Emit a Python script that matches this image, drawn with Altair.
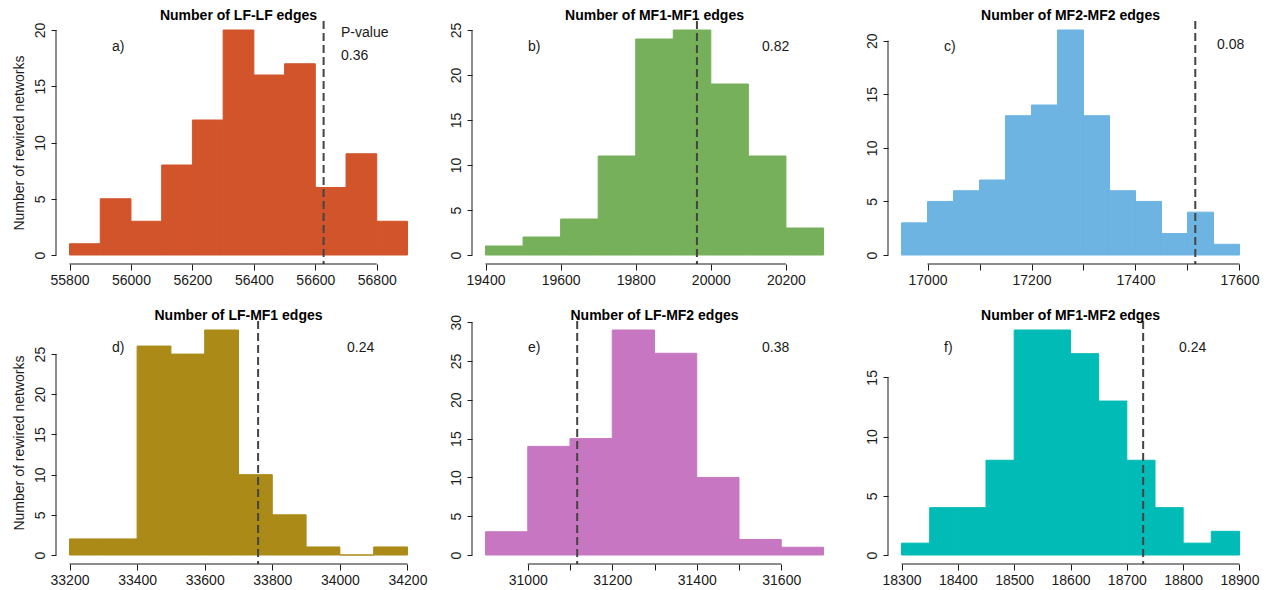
import altair as alt
import pandas as pd

FONT = "Liberation Sans"

# ---- data ----
titles = ["Number of LF-LF edges", "Number of MF1-MF1 edges", "Number of MF2-MF2 edges",
          "Number of LF-MF1 edges", "Number of LF-MF2 edges", "Number of MF1-MF2 edges"]
letters = ["a)", "b)", "c)", "d)", "e)", "f)"]
pvalues = ["0.36", "0.82", "0.08", "0.24", "0.38", "0.24"]
colors = ["#d1542b", "#77b05a", "#6db4e2", "#ab8a17", "#c777c1", "#00bbb6"]

bin_starts = [55800, 19400, 16950, 33200, 30900, 18300]
bin_widths = [100, 100, 50, 100, 100, 50]
counts_a = [1, 5, 3, 8, 12, 20, 16, 17, 6, 9, 3]
counts_b = [1, 2, 4, 11, 24, 25, 19, 11, 3]
counts_c = [3, 5, 6, 7, 13, 14, 21, 13, 6, 5, 2, 4, 1]
counts_d = [2, 2, 26, 25, 28, 10, 5, 1, 0, 1]
counts_e = [3, 14, 15, 29, 26, 10, 2, 1]
counts_f = [1, 4, 4, 8, 19, 19, 17, 13, 8, 4, 1, 2]
counts = [counts_a, counts_b, counts_c, counts_d, counts_e, counts_f]

observed = [56627, 19963, 17515, 33758, 31117, 18729]

x_ticks = [
    [55800, 56000, 56200, 56400, 56600, 56800],
    [19400, 19600, 19800, 20000, 20200],
    [17000, 17100, 17200, 17300, 17400, 17500, 17600],
    [33200, 33400, 33600, 33800, 34000, 34200],
    [31000, 31100, 31200, 31300, 31400, 31500, 31600],
    [18300, 18400, 18500, 18600, 18700, 18800, 18900],
]
x_label_step = [200, 200, 200, 200, 200, 100]
y_ticks = [
    [0, 5, 10, 15, 20],
    [0, 5, 10, 15, 20, 25],
    [0, 5, 10, 15, 20],
    [0, 5, 10, 15, 20, 25],
    [0, 5, 10, 15, 20, 25, 30],
    [0, 5, 10, 15],
]
y_title = "Number of rewired networks"

# ---- style ----
W, H = 365, 243
pval_x = [285, 290, 329, 291, 290, 291]
pval_y = [35, 26, 24, 27, 27, 27]
TXT = "#1a1a1a"


def panel(i):
    edges = [bin_starts[i] + k * bin_widths[i] for k in range(len(counts[i]) + 1)]
    df = pd.DataFrame({"x0": edges[:-1], "x1": edges[1:], "count": counts[i]})
    xmin, xmax = edges[0], edges[-1]
    xpad = 0.04 * (xmax - xmin)
    ymax = max(counts[i])
    ypad = 0.04 * ymax
    xs = alt.Scale(domain=[xmin - xpad, xmax + xpad], nice=False, zero=False)
    ys = alt.Scale(domain=[-ypad, ymax + ypad], nice=False, zero=False)

    step = x_label_step[i]
    xaxis = alt.Axis(values=x_ticks[i], domain=False, grid=False, title=None,
                     tickSize=6, tickColor=TXT, labelFlush=False, labelOverlap=False,
                     labelExpr=f"datum.value % {step} == 0 ? format(datum.value, 'd') : ''",
                     labelFontSize=14, labelFont=FONT, labelColor=TXT, labelPadding=3)
    yargs = dict(values=y_ticks[i], domain=False, grid=False,
                 tickSize=5, tickColor=TXT, labelAngle=270, labelAlign="center",
                 labelBaseline="bottom", labelPadding=4, labelFlush=False,
                 labelOverlap=False, format="d",
                 labelFontSize=14, labelFont=FONT, labelColor=TXT)
    if i % 3 == 0:
        yargs.update(title=y_title, titleFontSize=14, titleFont=FONT,
                     titleFontWeight="normal", titleColor=TXT, titlePadding=7)
    else:
        yargs.update(title=None)
    yaxis = alt.Axis(**yargs)

    bars = alt.Chart(df).mark_rect(
        color=colors[i], stroke=colors[i], strokeWidth=1
    ).encode(
        x=alt.X("x0:Q", scale=xs, axis=xaxis),
        x2="x1:Q",
        y=alt.Y("count:Q", scale=ys, axis=yaxis),
        y2=alt.datum(0),
    )

    vline = alt.Chart(pd.DataFrame({"obs": [observed[i]]})).mark_rule(
        color="#444444", strokeWidth=2, strokeDash=[8, 4]
    ).encode(x="obs:Q", y=alt.value(0), y2=alt.value(H))

    xline = alt.Chart(pd.DataFrame({"a": [x_ticks[i][0]], "b": [x_ticks[i][-1]]})).mark_rule(
        color=TXT, strokeWidth=1
    ).encode(x="a:Q", x2="b:Q", y=alt.value(H))

    yline = alt.Chart(pd.DataFrame({"a": [0], "b": [y_ticks[i][-1]]})).mark_rule(
        color=TXT, strokeWidth=1
    ).encode(y="a:Q", y2="b:Q", x=alt.value(0))

    title = alt.Chart(pd.DataFrame({"t": [titles[i]]})).mark_text(
        font=FONT, fontSize=14, fontWeight="bold", color="black",
        align="center", baseline="alphabetic"
    ).encode(text="t:N", x=alt.value(W / 2), y=alt.value(-1))

    letter = alt.Chart(pd.DataFrame({"t": [letters[i]]})).mark_text(
        font=FONT, fontSize=14, color=TXT, align="left", baseline="middle"
    ).encode(text="t:N", x=alt.value(56), y=alt.value(26 if i < 3 else 27))

    pv = alt.Chart(pd.DataFrame({"t": [pvalues[i]]})).mark_text(
        font=FONT, fontSize=14, color=TXT, align="left", baseline="middle"
    ).encode(text="t:N", x=alt.value(pval_x[i]), y=alt.value(pval_y[i]))

    layers = [bars, vline, xline, yline, title, letter, pv]
    if i == 0:
        lab = alt.Chart(pd.DataFrame({"t": ["P-value"]})).mark_text(
            font=FONT, fontSize=14, color=TXT, align="left", baseline="middle"
        ).encode(text="t:N", x=alt.value(285), y=alt.value(12))
        layers.append(lab)

    return alt.layer(*layers).properties(width=W, height=H)


chart = alt.concat(
    *[panel(i) for i in range(6)], columns=3,
    spacing={"row": 57, "column": 51}, bounds="flush"
).properties(
    padding={"left": 12, "top": 9, "right": 4, "bottom": 4}, background="white"
).configure_view(stroke=None)

chart.save("out.html", embed_options={"renderer": "svg", "actions": False})
